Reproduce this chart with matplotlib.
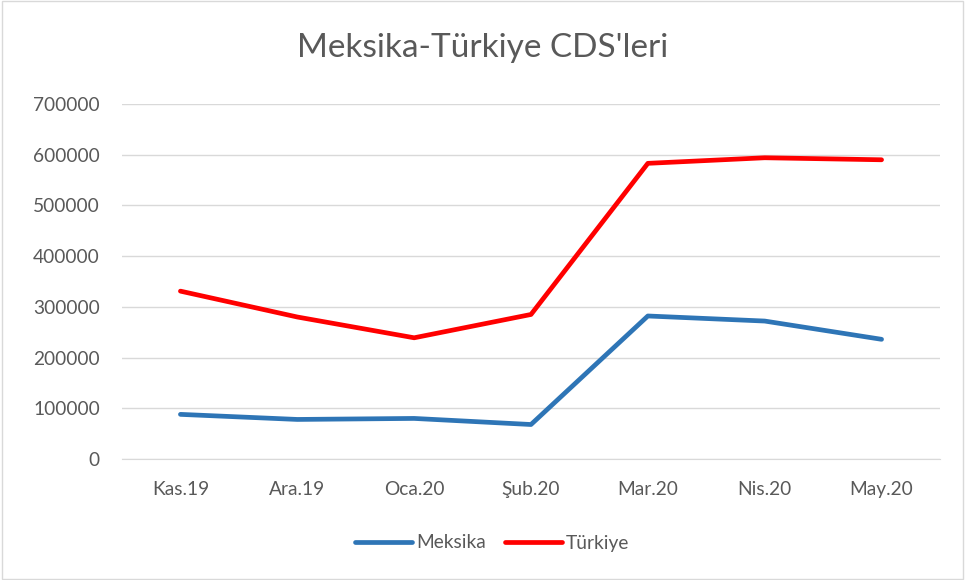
import matplotlib.pyplot as plt
from matplotlib.patches import Rectangle

months = ["Kas.19", "Ara.19", "Oca.20", "Şub.20", "Mar.20", "Nis.20", "May.20"]
meksika = [88000, 78000, 80000, 68000, 282000, 272000, 236000]
turkiye = [331000, 280000, 239000, 285000, 583000, 594000, 590000]
yticks = [0, 100000, 200000, 300000, 400000, 500000, 600000, 700000]

plt.rcParams['font.family'] = ['Lato', 'DejaVu Sans']

fig = plt.figure(figsize=(9.65, 5.8), dpi=100)
ax = fig.add_axes([122 / 965, 1 - 459 / 580, (940 - 122) / 965, (459 - 104) / 580])

x = range(len(months))
ax.plot(x, meksika, color='#2E75B6', lw=3.4, label='Meksika', solid_capstyle='round')
ax.plot(x, turkiye, color='#FF0000', lw=3.4, label='Türkiye', solid_capstyle='round')

ax.set_xlim(-0.5, len(months) - 0.5)
ax.set_ylim(0, 700000)
ax.set_yticks(yticks)
ax.set_yticklabels([str(v) for v in yticks])
ax.set_xticks(list(x))
ax.set_xticklabels(months)
ax.grid(axis='y', color='#D9D9D9', lw=1)
ax.set_axisbelow(True)
for s in ['top', 'right', 'left']:
    ax.spines[s].set_visible(False)
ax.spines['bottom'].set_color('#D9D9D9')
ax.tick_params(length=0, labelsize=13.8, colors='#595959')
ax.tick_params(axis='x', pad=16)
ax.tick_params(axis='y', pad=16)

fig.text(0.5, 1 - 48 / 580, "Meksika-Türkiye CDS'leri", ha='center', va='center',
         fontsize=24, color='#595959')

fig.legend(loc='center', bbox_to_anchor=(492 / 965, 1 - 543 / 580), ncol=2,
           frameon=False, fontsize=13.8, labelcolor='#595959', handlelength=3.0,
           columnspacing=1.0, handletextpad=0.2)

fig.patches.append(Rectangle((0.002, 0.002), 0.996, 0.996, transform=fig.transFigure,
                             fill=False, edgecolor='#D9D9D9', lw=1))

fig.savefig('out.png', dpi=100)
